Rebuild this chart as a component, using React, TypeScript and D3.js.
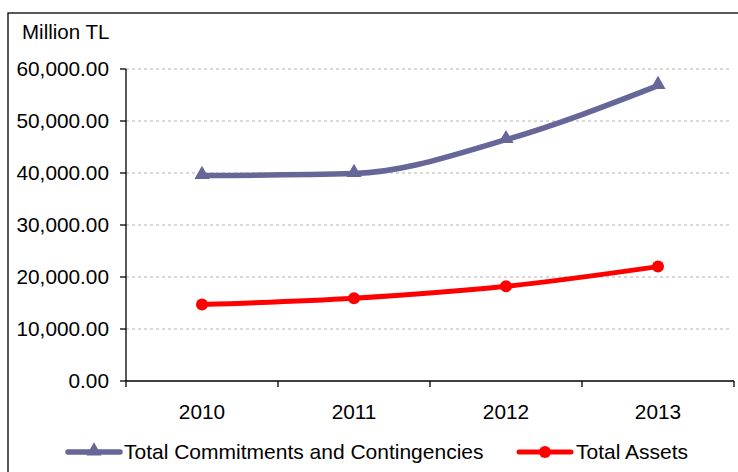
import React from "react";
import * as d3 from "d3";

const categories = ["2010", "2011", "2012", "2013"];
const commitments = [39500, 39900, 46400, 56800];
const totalAssets = [14700, 15900, 18200, 22000];
const yTicks = [0, 10000, 20000, 30000, 40000, 50000, 60000];
const seriesNames = ["Total Commitments and Contingencies", "Total Assets"];

const W = 738;
const H = 472;
const plot = { left: 126, right: 734, top: 69, bottom: 381 };
const FONT = "'Liberation Sans', Arial, sans-serif";

export default function App() {
  const x = d3
    .scaleBand<string>()
    .domain(categories)
    .range([plot.left, plot.right]);
  const y = d3.scaleLinear().domain([0, 60000]).range([plot.bottom, plot.top]);
  const cx = (c: string) => (x(c) as number) + x.bandwidth() / 2;
  const fmt = d3.format(",.2f");

  const line = d3
    .line<number>()
    .x((_, i) => cx(categories[i]))
    .y((d) => y(d))
    .curve(d3.curveMonotoneX);

  const tri = d3.symbol().type(d3.symbolTriangle).size(100)();
  const boundaries = categories.map((c) => x(c) as number).concat([plot.right]);

  return (
    <svg
      width={W}
      height={H}
      style={{ position: "absolute", left: 0, top: 0, background: "#fff" }}
      fontFamily={FONT}
    >
      <rect x={0} y={0} width={W} height={H} fill="#fff" />
      {/* frame */}
      <rect x={8} y={13} width={W + 10} height={H + 10} fill="none" stroke="#000" strokeWidth={1.3} />

      <text x={22} y={39} fontSize={20.5} fill="#000">Million TL</text>

      {/* gridlines */}
      {yTicks.filter((t) => t > 0).map((t) => (
        <line key={"g" + t} x1={plot.left} x2={732} y1={y(t)} y2={y(t)}
          stroke="#b4b4b4" strokeWidth={1} strokeDasharray="3,3" />
      ))}

      {/* y axis */}
      <line x1={plot.left} x2={plot.left} y1={plot.top} y2={plot.bottom} stroke="#000" strokeWidth={1.3} />
      {yTicks.map((t) => (
        <g key={"y" + t}>
          <line x1={plot.left - 6} x2={plot.left} y1={y(t)} y2={y(t)} stroke="#000" strokeWidth={1.3} />
          <text x={109} y={y(t)} dy="0.36em" textAnchor="end" fontSize={20.8} fill="#000">
            {fmt(t)}
          </text>
        </g>
      ))}

      {/* x axis */}
      <line x1={plot.left} x2={plot.right} y1={plot.bottom} y2={plot.bottom} stroke="#000" strokeWidth={1.3} />
      {boundaries.map((b, i) => (
        <line key={"xt" + i} x1={b} x2={b} y1={plot.bottom} y2={plot.bottom + 6} stroke="#000" strokeWidth={1.3} />
      ))}
      {categories.map((c) => (
        <text key={"xl" + c} x={cx(c)} y={419} textAnchor="middle" fontSize={20.8} fill="#000">
          {c}
        </text>
      ))}

      {/* series */}
      <path d={line(commitments) || ""} fill="none" stroke="#666699" strokeWidth={5.5} strokeLinejoin="round" />
      {commitments.map((v, i) => (
        <path key={"t" + i} d={tri || ""} transform={`translate(${cx(categories[i])},${y(v) - 1})`} fill="#666699" />
      ))}
      <path d={line(totalAssets) || ""} fill="none" stroke="#ff0000" strokeWidth={5} strokeLinejoin="round" />
      {totalAssets.map((v, i) => (
        <circle key={"c" + i} cx={cx(categories[i])} cy={y(v)} r={6} fill="#ff0000" />
      ))}

      {/* legend */}
      <line x1={68} x2={120} y1={452} y2={452} stroke="#666699" strokeWidth={5.5} strokeLinecap="round" />
      <path d={tri || ""} transform="translate(94,451)" fill="#666699" />
      <text x={124} y={459} fontSize={21} fill="#000">{seriesNames[0]}</text>
      <line x1={519} x2={571} y1={452} y2={452} stroke="#ff0000" strokeWidth={5} strokeLinecap="round" />
      <circle cx={545} cy={452} r={6} fill="#ff0000" />
      <text x={576} y={459} fontSize={21} fill="#000">{seriesNames[1]}</text>
    </svg>
  );
}
